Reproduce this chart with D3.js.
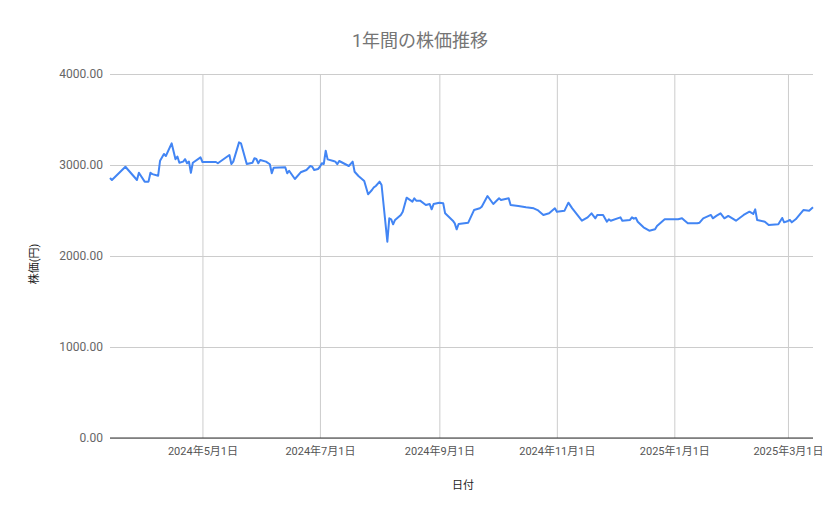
<!DOCTYPE html>
<html>
<head>
<meta charset="utf-8">
<script src="https://cdn.jsdelivr.net/npm/d3@7"></script>
<style>
  body { margin: 0; background: #fff; }
  text { font-family: Roboto, "Noto Sans CJK JP", sans-serif; }
</style>
</head>
<body>
<div id="chart"></div>
<script>
// ----- Data -----
const dates = [
  "2024-03-14","2024-03-15","2024-03-22","2024-03-28","2024-03-29","2024-04-01","2024-04-03","2024-04-04",
  "2024-04-05","2024-04-08","2024-04-09","2024-04-11","2024-04-12","2024-04-15","2024-04-17","2024-04-18",
  "2024-04-19","2024-04-21","2024-04-22","2024-04-23","2024-04-24","2024-04-25","2024-04-26","2024-04-30",
  "2024-05-01","2024-05-08","2024-05-09","2024-05-15","2024-05-16","2024-05-17","2024-05-20","2024-05-21",
  "2024-05-24","2024-05-27","2024-05-28","2024-05-29","2024-05-30","2024-05-31","2024-06-03","2024-06-05",
  "2024-06-06","2024-06-07","2024-06-13","2024-06-14","2024-06-15","2024-06-18","2024-06-21","2024-06-24",
  "2024-06-26","2024-06-27","2024-06-28","2024-06-30","2024-07-01","2024-07-02","2024-07-03","2024-07-04",
  "2024-07-05","2024-07-08","2024-07-09","2024-07-10","2024-07-11","2024-07-16","2024-07-18","2024-07-19",
  "2024-07-21","2024-07-24","2024-07-26","2024-07-28","2024-07-29","2024-07-30","2024-08-01","2024-08-02",
  "2024-08-05","2024-08-06","2024-08-07","2024-08-08","2024-08-09","2024-08-12","2024-08-13","2024-08-15",
  "2024-08-18","2024-08-19","2024-08-20","2024-08-22","2024-08-25","2024-08-27","2024-08-28","2024-08-29",
  "2024-09-01","2024-09-03","2024-09-04","2024-09-08","2024-09-09","2024-09-10","2024-09-11","2024-09-16",
  "2024-09-19","2024-09-22","2024-09-23","2024-09-26","2024-09-29","2024-10-02","2024-10-03","2024-10-07",
  "2024-10-08","2024-10-12","2024-10-16","2024-10-20","2024-10-22","2024-10-25","2024-10-28","2024-10-31",
  "2024-11-01","2024-11-05","2024-11-07","2024-11-09","2024-11-14","2024-11-17","2024-11-19","2024-11-21",
  "2024-11-22","2024-11-25","2024-11-27","2024-11-28","2024-11-29","2024-12-04","2024-12-05","2024-12-09",
  "2024-12-10","2024-12-11","2024-12-12","2024-12-13","2024-12-16","2024-12-19","2024-12-22","2024-12-23",
  "2024-12-27","2025-01-03","2025-01-05","2025-01-06","2025-01-08","2025-01-13","2025-01-14","2025-01-16",
  "2025-01-18","2025-01-20","2025-01-21","2025-01-23","2025-01-25","2025-01-27","2025-01-29","2025-02-02",
  "2025-02-06","2025-02-09","2025-02-11","2025-02-12","2025-02-13","2025-02-17","2025-02-19","2025-02-24",
  "2025-02-26","2025-02-27","2025-03-01","2025-03-02","2025-03-03","2025-03-05","2025-03-09","2025-03-12",
  "2025-03-14"
];
const prices = [
  2857,2835,2981,2835,2915,2817,2817,2915,
  2900,2882,3047,3121,3099,3238,3064,3093,
  3025,3037,3064,3019,3037,2915,3025,3084,
  3033,3033,3019,3110,3011,3037,3249,3238,
  3011,3025,3074,3066,3019,3055,3037,3008,
  2909,2971,2975,2909,2937,2846,2920,2945,
  2989,2981,2945,2956,2981,3019,3011,3157,
  3062,3044,3037,3008,3044,2989,3037,2926,
  2879,2824,2678,2725,2755,2769,2817,2780,
  2157,2414,2403,2348,2396,2451,2487,2641,
  2597,2634,2608,2608,2560,2571,2513,2571,
  2586,2579,2469,2388,2359,2293,2352,2366,
  2505,2524,2542,2659,2571,2634,2615,2634,
  2560,2549,2535,2524,2505,2451,2469,2524,
  2487,2498,2586,2524,2388,2425,2469,2414,
  2451,2451,2377,2403,2388,2425,2388,2396,
  2425,2410,2420,2377,2315,2278,2293,2330,
  2403,2403,2414,2396,2359,2359,2365,2414,
  2432,2451,2414,2443,2469,2414,2440,2388,
  2451,2487,2462,2513,2396,2377,2341,2348,
  2418,2370,2385,2396,2370,2403,2505,2498,
  2535
];
const yTicks = [0, 1000, 2000, 3000, 4000];
const xTicks = ["2024-05-01","2024-07-01","2024-09-01","2024-11-01","2025-01-01","2025-03-01"];

const TITLE = "1年間の株価推移";
const X_TITLE = "日付";
const Y_TITLE = "株価(円)";

// ----- Layout -----
const W = 839, H = 519;
const MARGIN = { top: 74, right: 26, bottom: 81, left: 110 };
const innerW = W - MARGIN.left - MARGIN.right;
const innerH = H - MARGIN.top - MARGIN.bottom;

const parse = d3.timeParse("%Y-%m-%d");
const points = dates.map((d, i) => ({ date: parse(d), price: prices[i] }));

const svg = d3.select("#chart").append("svg")
  .attr("width", W)
  .attr("height", H);

const g = svg.append("g")
  .attr("transform", `translate(${MARGIN.left},${MARGIN.top})`);

// Scales
const x = d3.scaleTime()
  .domain(d3.extent(points, d => d.date))
  .range([0, innerW]);

const y = d3.scaleLinear()
  .domain([0, 4000])
  .range([innerH, 0]);

// Horizontal gridlines + y labels
const yAxis = g.append("g")
  .call(d3.axisLeft(y).tickValues(yTicks).tickSize(-innerW).tickPadding(7)
    .tickFormat(d3.format(".2f")));
yAxis.select(".domain").remove();
yAxis.selectAll("line").attr("stroke", "#cccccc");
yAxis.selectAll("text")
  .attr("fill", "#666666")
  .attr("font-size", 12)
  .attr("font-family", "Roboto, sans-serif");

// Vertical gridlines + x labels
const fmtX = d => `${d.getFullYear()}年${d.getMonth() + 1}月${d.getDate()}日`;
const xAxis = g.append("g")
  .attr("transform", `translate(0,${innerH})`)
  .call(d3.axisBottom(x).tickValues(xTicks.map(parse)).tickSize(-innerH).tickPadding(9)
    .tickFormat(fmtX));
xAxis.select(".domain").remove();
xAxis.selectAll("line").attr("stroke", "#cccccc");
xAxis.selectAll("text")
  .attr("fill", "#555555")
  .attr("font-size", 11);

// Baseline
g.append("line")
  .attr("x1", 0).attr("x2", innerW)
  .attr("y1", y(0)).attr("y2", y(0))
  .attr("stroke", "#333333")
  .attr("stroke-width", 1);

// Price line
const line = d3.line()
  .x(d => x(d.date))
  .y(d => y(d.price));

g.append("path")
  .datum(points)
  .attr("fill", "none")
  .attr("stroke", "#4285f4")
  .attr("stroke-width", 2)
  .attr("stroke-linejoin", "round")
  .attr("d", line);

// Titles
svg.append("text")
  .attr("x", 420)
  .attr("y", 47)
  .attr("text-anchor", "middle")
  .attr("fill", "#757575")
  .attr("font-size", 18)
  .text(TITLE);

svg.append("text")
  .attr("x", 463)
  .attr("y", 489)
  .attr("text-anchor", "middle")
  .attr("fill", "#222222")
  .attr("font-size", 11)
  .text(X_TITLE);

svg.append("text")
  .attr("transform", `translate(38,264) rotate(-90)`)
  .attr("text-anchor", "middle")
  .attr("fill", "#222222")
  .attr("font-size", 11)
  .text(Y_TITLE);
</script>
</body>
</html>
